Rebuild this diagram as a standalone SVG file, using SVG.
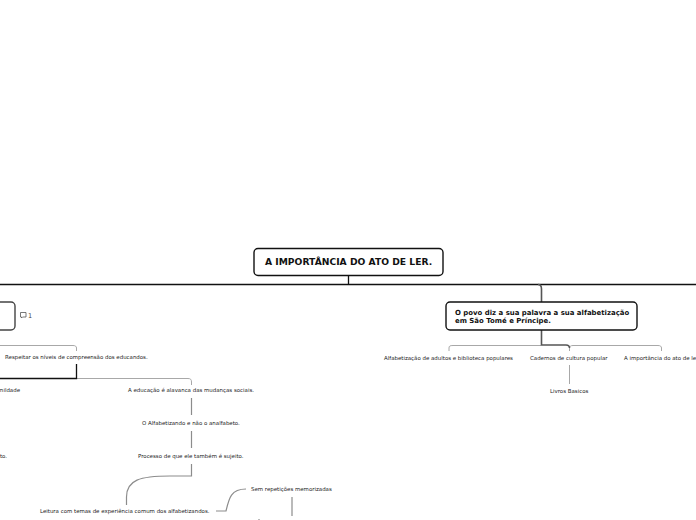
<svg xmlns="http://www.w3.org/2000/svg" width="696" height="520" viewBox="0 0 696 520">
<style>
text{font-family:"DejaVu Sans","Liberation Sans",sans-serif;fill:#222}
.s{font-size:5.45px}
.b{font-weight:bold;font-size:6.95px;fill:#111}
.t{font-weight:bold;font-size:9.2px;fill:#111}
.box{fill:#fff;stroke:#111;stroke-width:1.4}
.c{fill:none;stroke:#a8a8a8;stroke-width:1}
.g{fill:none;stroke:#8c8c8c;stroke-width:1.2}
.d{fill:none;stroke:#555;stroke-width:1.6}
.k{fill:none;stroke:#111;stroke-width:1.3}
</style>
<rect width="696" height="520" fill="#fff"/>
<g id="connectors">
<path class="k" d="M348.500 276V284.500M0 284.500H696"/>
<path class="d" d="M538 284.500C541 284.500 541.500 286 541.500 289V302"/>
<path class="c" d="M0 345.500H73C75.500 345.500 76.500 346.500 76.500 348V351"/>
<path class="c" d="M76.500 378.500H188C190.500 378.500 191.500 379.500 191.500 382V385"/>
<path class="k" d="M76.500 364V378.500H0"/>
<path class="g" d="M191.500 398V415M191.500 431V448"/>
<path class="g" d="M191.500 464V476H170C140 476 126.500 480 126.500 497V505"/>
<path class="g" d="M216 511H226C229 498 231 489 246 489"/>
<path class="g" d="M292 497V516"/>
<path class="c" d="M449 351V348C449 346 450 345.500 453 345.500H541M569.500 351V348C569.500 346.500 570.500 345.500 573 345.500H658C660.500 345.500 661.500 346.500 661.500 348V351"/>
<path class="d" d="M541.500 330V345H566C568.500 345 569.500 346.500 569.500 348"/>
<path class="c" d="M569.500 365V384"/>
<rect x="258" y="519" width="2" height="1" fill="#bbb"/>
</g>
<g id="root"><rect class="box" x="254" y="248.500" width="189" height="27" rx="4"/><text class="t" x="265" y="265">A IMPORTÂNCIA DO ATO DE LER.</text></g>
<g id="left-main"><rect class="box" x="-60" y="302" width="75" height="28" rx="4" style="stroke:#444"/></g>
<g id="comment"><path d="M20.500 312.500H26V317H22.500L21.500 318V317H20.500Z" fill="none" stroke="#555" stroke-width=".8"/><text x="28" y="318" style="font-size:6.5px;fill:#444">1</text></g>
<g id="n-respeitar"><text class="s" x="5" y="359">Respeitar os níveis de compreensão dos educandos.</text></g>
<g id="n-humildade"><text class="s" x="20" y="392" text-anchor="end">Humildade</text></g>
<g id="n-sujeito"><text class="s" x="7" y="458" text-anchor="end">sujeito.</text></g>
<g id="n-educacao"><text class="s" x="128" y="392">A educação é alavanca das mudanças sociais.</text></g>
<g id="n-alfabetizando"><text class="s" x="142" y="425">O Alfabetizando e não o analfabeto.</text></g>
<g id="n-processo"><text class="s" x="138" y="458">Processo de que ele também é sujeito.</text></g>
<g id="n-leitura"><text class="s" x="40" y="513">Leitura com temas de experiência comum dos alfabetizandos.</text></g>
<g id="n-sem"><text class="s" x="251" y="491">Sem repetições memorizadas</text></g>
<g id="right-main"><rect class="box" x="446" y="302" width="191" height="28" rx="4"/><text class="b" x="455" y="315">O povo diz a sua palavra a sua alfabetização</text><text class="b" x="455" y="323">em São Tomé e Príncipe.</text></g>
<g id="n-adultos"><text class="s" x="384" y="360">Alfabetização de adultos e biblioteca populares</text></g>
<g id="n-cadernos"><text class="s" x="530" y="360">Cadernos de cultura popular</text></g>
<g id="n-ato"><text class="s" x="624" y="360">A importância do ato de ler.</text></g>
<g id="n-livros"><text class="s" x="550" y="393">Livros Basicos</text></g>
</svg>
